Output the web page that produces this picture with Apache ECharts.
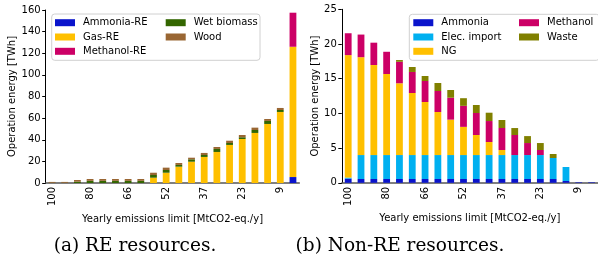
<!DOCTYPE html>
<html>
<head>
<meta charset="utf-8">
<script src="https://cdn.jsdelivr.net/npm/echarts@6/dist/echarts.min.js"></script>
<style>
html,body{margin:0;padding:0;background:#fff;}
#c{width:598px;height:272px;}
</style>
</head>
<body>
<div id="c"></div>
<script>
// Categories (yearly emissions limit, MtCO2-eq./y)
const categories = ['100','89','85','80','75','71','66','61','56','52','47','42','37','33','28','23','19','14','9','5'];

// (a) RE resources [TWh]
const ammoniaRE  = [0,0,0,0,0,0,0,0,0,0,0,0,0,0,0,0,0,0,0,5.5];
const gasRE      = [0,0,0,0,0,0,0,0,4.9,9.5,15.1,19.7,24.1,28.7,35.2,40.7,46.3,54.6,65.7,120.5];
const methanolRE = [0,0,0,0,0,0,0,0,0,0,0,0,0,0,0,0,0,0,0,31.5];
const wetBiomass = [0.2,0.2,1.2,2.0,2.0,2.0,2.0,2.0,2.5,2.5,1.6,2.2,1.8,2.8,1.8,1.6,2.7,2.8,1.8,0];
const wood       = [0.8,0.8,1.6,1.7,1.7,1.7,1.7,1.7,2.1,2.2,1.8,1.5,1.9,1.8,2.1,2.1,2.2,1.8,1.9,0];

// (b) Non-RE resources [TWh]
const ammonia    = [0.6,0.55,0.55,0.55,0.55,0.55,0.55,0.55,0.55,0.55,0.55,0.55,0.55,0.55,0.55,0.55,0.55,0.26,0.08,0.08];
const elecImport = [0.15,3.45,3.45,3.45,3.45,3.45,3.45,3.45,3.45,3.45,3.45,3.45,3.45,3.45,3.45,3.45,3.02,2.02,0,0];
const ng         = [17.65,14.1,12.97,11.68,10.34,8.94,7.64,6.2,5.1,4.06,2.89,1.88,0.73,0,0,0,0,0,0,0];
const methanol   = [3.15,3.26,3.22,3.2,3.1,3.03,3.03,3.03,3.16,3.03,3.17,3.02,3.17,2.89,1.73,0.73,0,0,0,0];
const waste      = [0,0,0,0,0.25,0.72,0.72,1.15,1.11,1.1,1.15,1.2,1.15,1.0,1.0,1.0,0.58,0,0,0];

const FONT = 'DejaVu Sans';
const FS = 10;
const C = {
  ammonia:'#0a14cc', gas:'#ffc000', methanol:'#cc0066', wet:'#336600', wood:'#996633',
  elec:'#00b0f0', waste:'#808000'
};

const chart = echarts.init(document.getElementById('c'), null, {renderer:'canvas'});

function xAx(gi){
  return {
    type:'category', gridIndex:gi, data:categories, boundaryGap:true,
    axisLine:{lineStyle:{color:'#555', width:1.5}},
    axisTick:{interval:0, alignWithLabel:true, length:3, lineStyle:{color:'#000'}},
    axisLabel:{interval:2, rotate:90, fontFamily:FONT, fontSize:FS, color:'#000', margin:4},
    name:'Yearly emissions limit [MtCO2-eq./y]', nameLocation:'middle', nameGap:21,
    nameTextStyle:{fontFamily:FONT, fontSize:FS, color:'#000'},
    splitLine:{show:false}
  };
}
function yAx(gi, max, interval){
  return {
    type:'value', gridIndex:gi, min:0, max:max, interval:interval,
    axisLine:{show:true, lineStyle:{color:'#000', width:1}},
    axisTick:{show:true, length:3.5, lineStyle:{color:'#000'}},
    axisLabel:{fontFamily:FONT, fontSize:FS, color:'#000', margin:5},
    splitLine:{show:false},
    name:'Operation energy [TWh]', nameLocation:'middle', nameGap: gi===0 ? 26.5 : 19.5,
    nameTextStyle:{fontFamily:FONT, fontSize:FS, color:'#000'}
  };
}
function bar(name, data, color, gi, stack){
  return {type:'bar', name:name, data:data, xAxisIndex:gi, yAxisIndex:gi, stack:stack,
    barWidth:6.8, itemStyle:{color:color}, silent:true, animation:false};
}
function legend(names, left, top){
  return {
    data:names, orient:'vertical', left:left, top:top, padding:0,
    itemWidth:20, itemHeight:7, itemGap:2.3, icon:'rect', selectedMode:false,
    textStyle:{fontFamily:FONT, fontSize:FS, color:'#000', lineHeight:12, padding:[0,0,0,3]}
  };
}

chart.setOption({
  animation:false,
  backgroundColor:'#fff',
  grid:[
    {left:45.7, top:10, width:253.6, height:173},
    {left:341.8, top:9.3, width:259.4, height:173.5}
  ],
  xAxis:[xAx(0), xAx(1)],
  yAxis:[yAx(0,160,20), yAx(1,25,5)],
  legend:[
    legend(['Ammonia-RE','Gas-RE','Methanol-RE'], 55, 16.7),
    legend(['Wet biomass','Wood'], 165.7, 16.7),
    legend(['Ammonia','Elec. import','NG'], 413.3, 16.7),
    legend(['Methanol','Waste'], 519, 16.7)
  ],
  graphic:[
    {type:'rect', z:-1, shape:{x:51.7, y:14, width:208.3, height:46.3, r:3},
      style:{fill:'rgba(255,255,255,0.8)', stroke:'#d0d0d0', lineWidth:1}},
    {type:'rect', z:-1, shape:{x:409.3, y:14.3, width:190, height:46, r:3},
      style:{fill:'rgba(255,255,255,0.8)', stroke:'#d0d0d0', lineWidth:1}},
    {type:'text', x:135, y:246, style:{text:'(a) RE resources.', font:'18.5px "DejaVu Serif"', fill:'#000', textAlign:'center', textVerticalAlign:'middle'}},
    {type:'text', x:400, y:246, style:{text:'(b) Non-RE resources.', font:'18.5px "DejaVu Serif"', fill:'#000', textAlign:'center', textVerticalAlign:'middle'}}
  ],
  series:[
    bar('Ammonia-RE', ammoniaRE, C.ammonia, 0, 'a'),
    bar('Gas-RE', gasRE, C.gas, 0, 'a'),
    bar('Methanol-RE', methanolRE, C.methanol, 0, 'a'),
    bar('Wet biomass', wetBiomass, C.wet, 0, 'a'),
    bar('Wood', wood, C.wood, 0, 'a'),
    bar('Ammonia', ammonia, C.ammonia, 1, 'b'),
    bar('Elec. import', elecImport, C.elec, 1, 'b'),
    bar('NG', ng, C.gas, 1, 'b'),
    bar('Methanol', methanol, C.methanol, 1, 'b'),
    bar('Waste', waste, C.waste, 1, 'b')
  ]
});
</script>
</body>
</html>
